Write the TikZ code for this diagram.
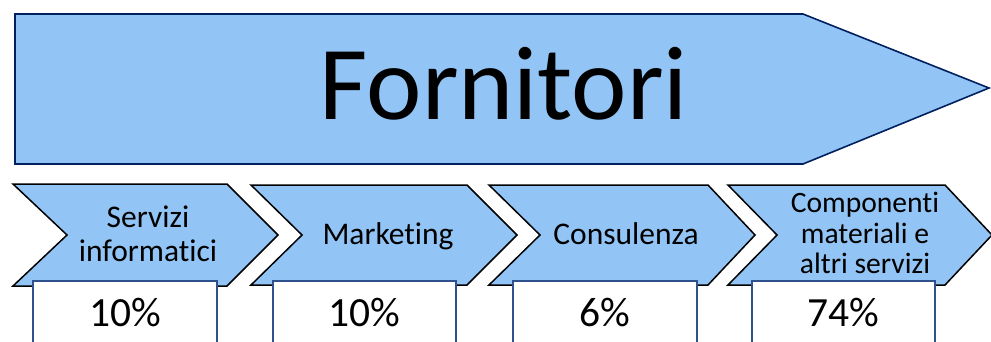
\documentclass[tikz,border=0pt]{standalone}
\usepackage{fontspec}
\setmainfont[Ligatures=CommonOff]{Carlito}
\definecolor{azure}{RGB}{146,197,245}
\definecolor{navy}{RGB}{0,32,96}
\definecolor{steel}{RGB}{47,82,143}
\tikzset{
  bigarrow/.style = {draw=navy,fill=azure,line width=1.6pt,line join=miter},
  chevron/.style = {draw=black,fill=azure,line width=1.5pt,line join=miter},
  pctbox/.style = {draw=steel,fill=white,line width=1.5pt},
  title/.style = {inner sep=0pt,font=\fontsize{105}{105}\selectfont},
  label/.style = {inner sep=0pt,align=center,font=\fontsize{31.5}{34.5}\selectfont},
  pct/.style = {inner sep=0pt,font=\fontsize{41.5}{41.5}\selectfont}
}

\begin{document}
\begin{tikzpicture}[x=1pt,y=-1pt]
  \useasboundingbox (0,0) rectangle (991,341);
  % big arrow
  \draw[bigarrow] (15,14) -- (803,14) -- (989,88) -- (803,164) -- (15,164) -- cycle;
  \node[title,anchor=base] (forn) at (504,119) {Fornitori};
  % chevrons
  \draw[chevron] (13,184) -- (227,184) -- (278,235) -- (227,286) -- (13,286) -- (67,235) -- cycle;
  \draw[chevron] (251,185) -- (467,185) -- (517,235) -- (467,285) -- (251,285) -- (302,235) -- cycle;
  \draw[chevron] (489,185) -- (708,185) -- (755,235) -- (708,285) -- (489,285) -- (540,235) -- cycle;
  \draw[chevron] (728,185) -- (945,185) -- (992,235) -- (945,285) -- (728,285) -- (777,235) -- cycle;
  \node[label] (serv) at (148,234) {Servizi\\informatici};
  \node[label,anchor=base] (mark) at (388,244) {Marketing};
  \node[label,anchor=base] (cons) at (626,244) {Consulenza};
  \node[label,font=\fontsize{29.6}{30.5}\selectfont] (comp) at (865,233) {Componenti\\materiali e\\altri servizi};
  % percentages
  \draw[pctbox] (33,281) rectangle (217,350);
  \draw[pctbox] (273,281) rectangle (456,350);
  \draw[pctbox] (513,281) rectangle (697,350);
  \draw[pctbox] (752,281) rectangle (935,350);
  \node[pct,anchor=base] (p1) at (125,326) {10\%};
  \node[pct,anchor=base] (p2) at (364.5,326) {10\%};
  \node[pct,anchor=base] (p3) at (605,326) {6\%};
  \node[pct,anchor=base] (p4) at (843.5,326) {74\%};
\end{tikzpicture}
\end{document}
